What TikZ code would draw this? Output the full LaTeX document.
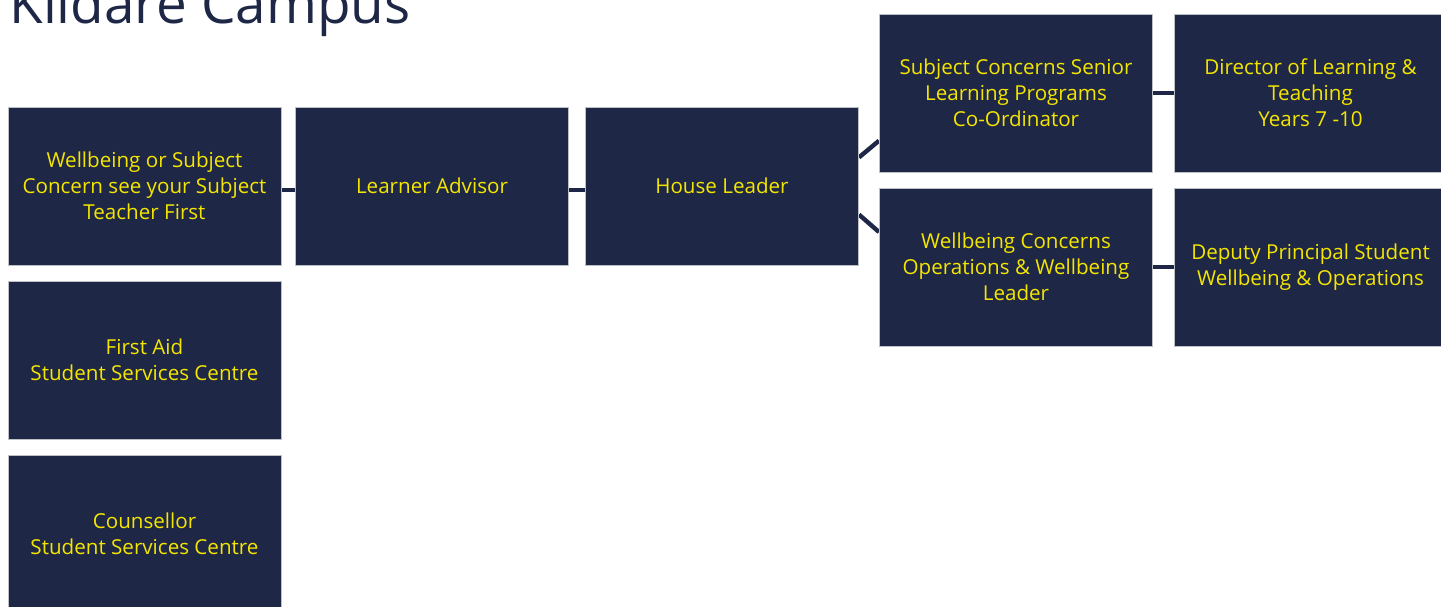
\documentclass[tikz,border=0pt]{standalone}
\usepackage{fontspec}
\setmainfont{Open Sans}
\usetikzlibrary{calc}
\pgfdeclarelayer{background}
\pgfsetlayers{background,main}
\definecolor{navy}{RGB}{30,39,69}
\definecolor{txtyellow}{RGB}{245,230,0}
\definecolor{edgegrey}{RGB}{190,192,200}
\tikzset{
  orgbox/.style={rectangle, fill=navy, draw=edgegrey, line width=0.5pt,
    minimum width=136.5pt, minimum height=79pt, inner sep=0pt,
    text=txtyellow, align=center, font=\fontsize{10.3}{13}\selectfont},
  link/.style={draw=navy, line width=2.2pt}
}
\begin{document}
\begin{tikzpicture}[x=0.5pt,y=-0.5pt]
\useasboundingbox (0,0) rectangle (1441,606);
\node[anchor=base west, text=navy, font=\fontsize{27.4}{30}\selectfont, inner sep=0pt] (title) at (9,23) {Kildare Campus};
\node[orgbox] (A) at (144.5,186) {Wellbeing or Subject\\Concern see your Subject\\Teacher First};
\node[orgbox] (LA) at (432,186) {Learner Advisor};
\node[orgbox] (HL) at (722,186) {House Leader};
\node[orgbox] (SC) at (1016,93) {Subject Concerns Senior\\Learning Programs\\Co-Ordinator};
\node[orgbox] (DL) at (1310.5,93) {Director of Learning \&\\Teaching\\Years 7 -10};
\node[orgbox] (WC) at (1016,267) {Wellbeing Concerns\\Operations \& Wellbeing\\Leader};
\node[orgbox] (DP) at (1310.5,267) {Deputy Principal Student\\Wellbeing \& Operations};
\node[orgbox] (FA) at (144.5,360) {First Aid\\Student Services Centre};
\node[orgbox] (CO) at (144.5,534) {Counsellor\\Student Services Centre};
\begin{pgfonlayer}{background}
\draw[link] ([yshift=-2pt]A.east) -- ([yshift=-2pt]LA.west);
\draw[link] ([yshift=-2pt]LA.east) -- ([yshift=-2pt]HL.west);
\draw[link] ($(HL.north east)!0.32!(HL.south east)$) -- ($(SC.north west)!0.8!(SC.south west)$);
\draw[link] ($(HL.north east)!0.68!(HL.south east)$) -- ($(WC.north west)!0.28!(WC.south west)$);
\draw[link] (SC) -- (DL);
\draw[link] (WC) -- (DP);
\end{pgfonlayer}
\end{tikzpicture}
\end{document}
